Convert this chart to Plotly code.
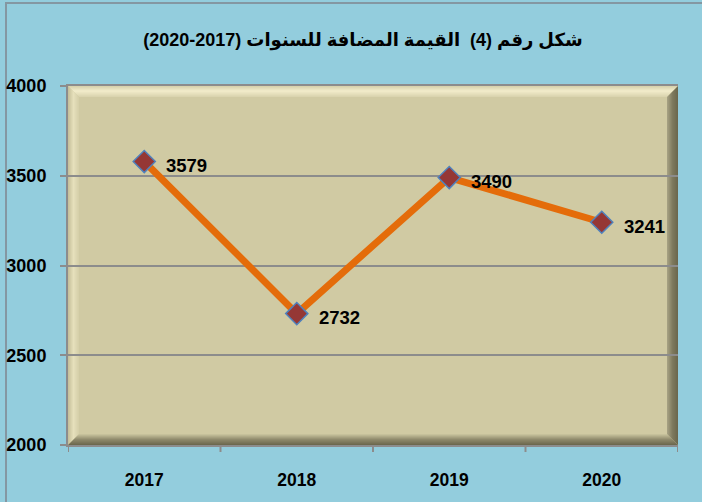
import plotly.graph_objects as go

years = ["2017", "2018", "2019", "2020"]
values = [3579, 2732, 3490, 3241]
y_ticks = [2000, 2500, 3000, 3500, 4000]
title_text = "شكل رقم (4)  القيمة المضافة للسنوات (2017-2020)"

FONT = "Liberation Sans, Arial, DejaVu Sans"

fig = go.Figure()
fig.add_trace(go.Scatter(
    x=list(range(len(years))), y=values, mode="lines+markers",
    line=dict(color="#E46C0A", width=7),
    marker=dict(symbol="diamond", size=17, color="#953735",
                line=dict(color="#4F81BD", width=1.5)),
    hoverinfo="skip", cliponaxis=False,
))

for i, v in enumerate(values):
    fig.add_annotation(x=i, y=v, text=f"<b>{v}</b>", showarrow=False,
                       xanchor="left", yanchor="middle", xshift=20, yshift=-4,
                       font=dict(family=FONT, size=18.5, color="black"))

W, H = 610, 359  # plot area px
BW = 11  # bevel width px


def lerp(c1, c2, t):
    a = [int(c1[i:i + 2], 16) for i in (1, 3, 5)]
    b = [int(c2[i:i + 2], 16) for i in (1, 3, 5)]
    return "#%02x%02x%02x" % tuple(round(a[k] + (b[k] - a[k]) * t) for k in range(3))


shapes = [dict(type="rect", xref="paper", yref="paper", x0=0, x1=1, y0=0, y1=1,
               fillcolor="#D0CAA3", line=dict(width=0), layer="below")]

sides = {
    "top": [(0.0, "#D6D0AA"), (0.45, "#F2ECCB"), (1.0, "#D8D2AC")],
    "left": [(0.0, "#C4BE98"), (0.5, "#E6E0BC"), (1.0, "#D4CEA8")],
    "bottom": [(0.0, "#6A664C"), (0.5, "#8F8A6C"), (1.0, "#CCC6A0")],
    "right": [(0.0, "#6A664C"), (0.5, "#7E7A5E"), (1.0, "#A8A384")],
}


def color_at(stops, t):
    for (t0, c0), (t1, c1) in zip(stops, stops[1:]):
        if t <= t1:
            return lerp(c0, c1, (t - t0) / (t1 - t0) if t1 > t0 else 0)
    return stops[-1][1]


for k in range(BW):
    t = (k + 0.5) / BW
    ox0, oy0 = k / W, k / H
    ox1, oy1 = (k + 1) / W, (k + 1) / H
    shapes.append(dict(type="path", xref="paper", yref="paper",
                       path=f"M{ox0},{1-oy0} L{1-ox0},{1-oy0} L{1-ox1},{1-oy1} L{ox1},{1-oy1} Z",
                       fillcolor=color_at(sides["top"], t), line=dict(width=0), layer="below"))
    shapes.append(dict(type="path", xref="paper", yref="paper",
                       path=f"M{ox0},{oy0} L{ox0},{1-oy0} L{ox1},{1-oy1} L{ox1},{oy1} Z",
                       fillcolor=color_at(sides["left"], t), line=dict(width=0), layer="below"))
    shapes.append(dict(type="path", xref="paper", yref="paper",
                       path=f"M{ox0},{oy0} L{1-ox0},{oy0} L{1-ox1},{oy1} L{ox1},{oy1} Z",
                       fillcolor=color_at(sides["bottom"], t), line=dict(width=0), layer="below"))
    shapes.append(dict(type="path", xref="paper", yref="paper",
                       path=f"M{1-ox0},{oy0} L{1-ox0},{1-oy0} L{1-ox1},{1-oy1} L{1-ox1},{oy1} Z",
                       fillcolor=color_at(sides["right"], t), line=dict(width=0), layer="below"))

# outer chart border
shapes.append(dict(type="rect", xref="paper", yref="paper",
                   x0=(6 - 68) / W, x1=(720 - 68) / W, y0=(445 - 520) / H, y1=1 + (86 - 3) / H,
                   fillcolor="rgba(0,0,0,0)", line=dict(color="#8497A2", width=2),
                   layer="below"))

GRID = "#8C8C8C"
fig.update_layout(
    width=702, height=502,
    margin=dict(l=68, r=24, t=86, b=57, autoexpand=False),
    paper_bgcolor="#93CDDD",
    plot_bgcolor="rgba(0,0,0,0)",
    showlegend=False,
    shapes=shapes,
    title=dict(text=f"<b>{title_text}</b>", x=0.517, xanchor="center", y=0.92, yanchor="middle",
               font=dict(family=FONT, size=18, color="black")),
    xaxis=dict(range=[-0.5, len(years) - 0.5], tickvals=list(range(len(years))),
               ticktext=[f"<b>{y}</b>" for y in years], showgrid=False,
               showline=True, linecolor=GRID, linewidth=2, mirror=True,
               ticks="", zeroline=False, automargin=False,
               tickfont=dict(family=FONT, size=17.5, color="black", weight="bold"),
               ticklabelstandoff=18),
    yaxis=dict(range=[2000, 4000], tickvals=y_ticks,
               ticktext=[f"<b>{v}</b>" for v in y_ticks],
               showgrid=True, gridcolor=GRID, gridwidth=2,
               showline=True, linecolor=GRID, linewidth=2,
               ticks="outside", ticklen=6, tickcolor=GRID, tickwidth=2,
               tickfont=dict(family=FONT, size=18, color="black", weight="bold"),
               ticklabelstandoff=10, zeroline=False, automargin=False),
)

for b in [i - 0.5 for i in range(len(years) + 1)]:
    fig.add_shape(type="line", xref="x", yref="paper", x0=b, x1=b, y0=0, y1=-7 / H,
                  line=dict(color=GRID, width=2))

fig.write_html("out.html", config={"displayModeBar": False},
               post_script="document.body.style.margin='0';document.body.style.overflow='hidden';")
